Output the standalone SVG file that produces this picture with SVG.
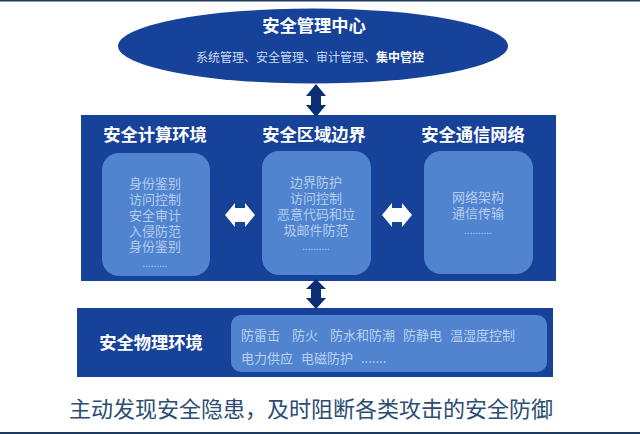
<svg xmlns="http://www.w3.org/2000/svg" width="640" height="434" viewBox="0 0 640 434">
<style>
text{font-family:"Noto Sans CJK SC","Noto Sans",sans-serif;text-anchor:middle}
.panel{fill:#17429a}
.card{fill:#5084cf}
.h{font-size:17.3px;font-weight:700;fill:#fff}
.t{font-size:13px;fill:#b4cdf0}
.s{font-size:13px;fill:#b9d1f2;text-anchor:start}
.d{font-size:10px;fill:#b4cdf0}
.va{fill:#0b2f72}
.ha{fill:#fff}
</style>
<rect width="640" height="434" fill="#fff"/>
<rect width="640" height="1.5" fill="#1d3a5e"/>
<rect y="432" width="640" height="2" fill="#1d3a5e"/>
<g id="mgmt">
<ellipse class="panel" cx="313" cy="46" rx="195" ry="37.5"/>
<text class="h" x="314" y="32">安全管理中心</text>
<text x="310" y="62" font-size="12" fill="#c9dbf5">系统管理、安全管理、审计管理、<tspan font-weight="700" fill="#fff">集中管控</tspan></text>
</g>
<g id="panel-main"><rect class="panel" x="81" y="115" width="475" height="166"/></g>
<g id="compute">
<text class="h" x="155" y="141">安全计算环境</text>
<rect class="card" x="102" y="153" width="108" height="123" rx="17"/>
<text class="t"><tspan x="155" y="188">身份鉴别</tspan><tspan x="155" y="204">访问控制</tspan><tspan x="155" y="220">安全审计</tspan><tspan x="155" y="236">入侵防范</tspan><tspan x="155" y="251">身份鉴别</tspan><tspan class="d" x="155" y="267">.........</tspan></text>
</g>
<g id="boundary">
<text class="h" x="314" y="141">安全区域边界</text>
<rect class="card" x="262" y="151" width="109" height="124" rx="17"/>
<text class="t"><tspan x="316" y="187">边界防护</tspan><tspan x="316" y="203">访问控制</tspan><tspan x="316" y="219">恶意代码和垃</tspan><tspan x="316" y="235">圾邮件防范</tspan><tspan class="d" x="316" y="250">..........</tspan></text>
</g>
<g id="network">
<text class="h" x="473" y="141">安全通信网络</text>
<rect class="card" x="424" y="151" width="109" height="123" rx="17"/>
<text class="t"><tspan x="478" y="202">网络架构</tspan><tspan x="478" y="218">通信传输</tspan><tspan class="d" x="478" y="234">..........</tspan></text>
</g>
<g id="physical">
<rect class="panel" x="77" y="308" width="476" height="69"/>
<text class="h" x="151" y="349">安全物理环境</text>
<rect class="card" x="231" y="315" width="316" height="57" rx="10"/>
<text class="s" x="241" y="340">防雷击</text>
<text class="s" x="292" y="340">防火</text>
<text class="s" x="330" y="340">防水和防潮</text>
<text class="s" x="403" y="340">防静电</text>
<text class="s" x="450" y="340">温湿度控制</text>
<text class="s" x="241" y="363">电力供应</text>
<text class="s" x="301" y="363">电磁防护</text>
<text class="s" x="361" y="363">.......</text>
</g>
<g id="connectors">
<path class="va" d="M316 84L326 96H321V105H326L316 117L306 105H311V96H306Z"/>
<path class="va" d="M316 279L326 289H321V298H326L316 309L306 298H311V289H306Z"/>
<path class="ha" d="M225 215L235 203V208H245V203L255 215L245 227V222H235V227Z"/>
<path class="ha" d="M382 215L392 203V208H402V203L412 215L402 227V222H392V227Z"/>
</g>
<text x="311" y="417" font-size="22" fill="#2c4c74">主动发现安全隐患，及时阻断各类攻击的安全防御</text>
</svg>
